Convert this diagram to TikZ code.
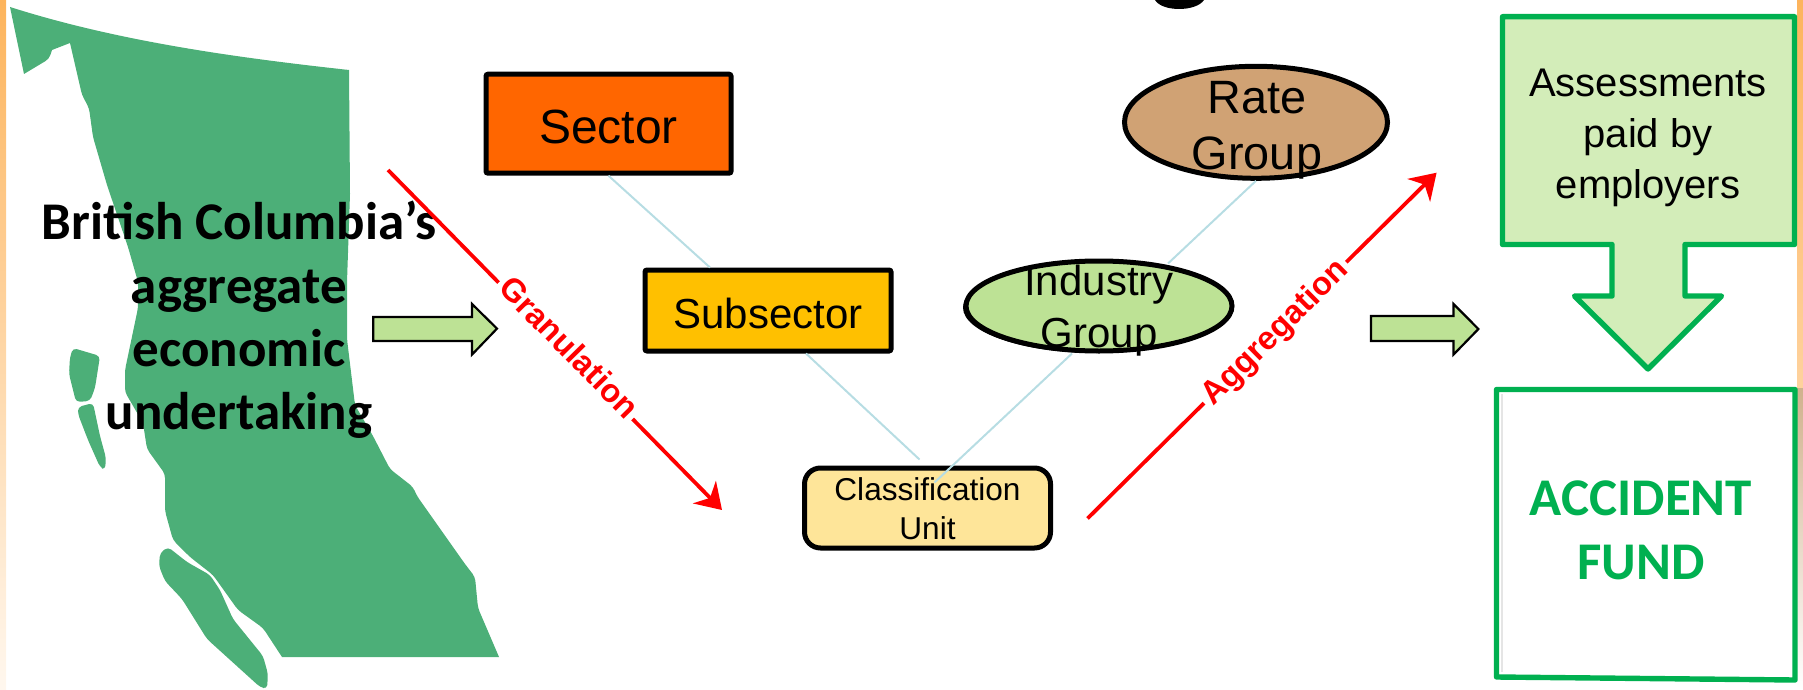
\documentclass[tikz,border=0pt]{standalone}
\usepackage{fontspec}
\setmainfont{Liberation Sans}
\newfontfamily\carl{Carlito}
\usetikzlibrary{arrows.meta,shapes.geometric}
\definecolor{mapgreen}{HTML}{4CAF78}
\definecolor{fundgreen}{HTML}{00B050}
\definecolor{paleg}{HTML}{D3EDB9}
\definecolor{arrowg}{HTML}{BDE295}
\definecolor{linkblue}{HTML}{B7DDE3}
\definecolor{stripo}{HTML}{FDB45C}
\tikzset{
  x=0.5pt,y=-0.5pt,
  boxnode/.style={draw=black,line width=2.5pt,inner sep=0pt,align=center,rounded corners=1pt},
  ovalnode/.style={ellipse,draw=black,line width=2.5pt,inner sep=0pt},
  ovaltext/.style={align=center,inner sep=0pt},
  link/.style={draw=linkblue,line width=1pt},
  redline/.style={draw=red,line width=1.9pt},
  redhead/.style={-{Stealth[length=12.5pt,width=16pt,inset=4pt]}},
  redlabel/.style={fill=white,text=red,font=\bfseries\fontsize{16.3}{20}\selectfont,inner sep=2pt},
  blockarrow/.style={draw=black,fill=arrowg,line width=1.1pt,line join=miter},
  mapfill/.style={fill=mapgreen,draw=none},
  fundline/.style={draw=fundgreen,line width=2.7pt,line join=round},
}
\begin{document}
\begin{tikzpicture}
\useasboundingbox (0,0) rectangle (1803,690);
\shade[top color=stripo,bottom color=stripo!10] (0,0) rectangle (6,690);
\shade[top color=stripo,bottom color=stripo!60] (1797,0) rectangle (1803,388);
\shade[top color=black!30!stripo!60,bottom color=white] (1797,388) rectangle (1803,690);
% map
\path[mapfill] (10,7) .. controls (120,42) and (240,58) .. (349,70)
 -- (350,194) [rounded corners=2pt] -- (347,282) -- (347,339) -- (355,405) -- (373,436) -- (390,469) -- (413,487) -- (417,496) -- (465,564) -- (475,577) -- (478,608) [sharp corners] -- (499,657)
 -- (282,657) [rounded corners=2pt] -- (263,628) -- (238,610) -- (213,575) -- (190,557) -- (173,540) -- (165,511) -- (165,474) -- (147,449) -- (143,423) -- (125,392) -- (125,370) -- (138,308) -- (138,282) -- (128,247) -- (107,185) -- (93,137) -- (89,108) -- (82,95) [sharp corners] -- (70,43) -- (52,50) [rounded corners=2pt] -- (49,59) [sharp corners] -- (24,74) -- cycle;
\path[mapfill,rounded corners=2pt] (73,348) -- (100,356) -- (95,388) -- (90,401) -- (76,402) -- (69,374) -- (70,357) -- cycle;
\path[mapfill,rounded corners=2pt] (78,407) -- (93,403) -- (100,436) -- (106,458) -- (105,470) -- (100,467) -- (88,440) -- (78,414) -- cycle;
\path[mapfill,rounded corners=2pt] (160,553) -- (168,547) -- (187,562) -- (210,575) -- (220,590) -- (233,619) -- (263,656) -- (268,674) -- (267,689) -- (260,687) -- (207,639) -- (182,599) -- (165,581) -- (159,566) -- cycle;
% cut-off title letter
\fill[black] (1155,0) .. controls (1162,12) and (1196,12) .. (1204,0) -- cycle;
\node[align=center,font=\carl\bfseries\fontsize{26.5}{31.7}\selectfont] (bc) at (239,320) {British Columbia’s\\aggregate\\economic\\undertaking};
% nodes
\node[boxnode,fill={rgb,255:red,255;green,102;blue,0},minimum width=122.5pt,minimum height=49.5pt,text height=20pt,text depth=0pt,font=\fontsize{24}{28}\selectfont] (sector) at (608.5,123.7) {Sector};
\node[boxnode,fill={rgb,255:red,255;green,192;blue,0},minimum width=123pt,minimum height=40.5pt,text height=17.8pt,text depth=0pt,font=\fontsize{21}{25}\selectfont] (subsector) at (768,310.5) {Subsector};
\node[boxnode,rounded corners=8pt,fill={rgb,255:red,254;green,229;blue,153},minimum width=123pt,minimum height=40pt,font=\fontsize{15.8}{19.5}\selectfont] (unit) at (927.5,508) {};
\node[ovaltext,font=\fontsize{15.8}{19.5}\selectfont] (unittext) at (927.5,509) {Classification\\Unit};
\fill[black] (1255,122.3) ellipse[x radius=132,y radius=56];
\node[ovalnode,fill={rgb,255:red,208;green,162;blue,116},minimum width=131.5pt,minimum height=56pt] (rate) at (1256,122.3) {};
\node[ovaltext,font=\fontsize{23.4}{27.8}\selectfont] (ratetext) at (1257,130.3) {Rate\\Group};
\fill[black] (1097,307.5) ellipse[x radius=134,y radius=45.5];
\node[ovalnode,fill=arrowg,minimum width=133pt,minimum height=45pt] (industry) at (1099,306) {};
\node[ovaltext,font=\fontsize{21}{26}\selectfont] (industrytext) at (1099,311) {Industry\\Group};
% links
\draw[link] (sector.south) -- ([xshift=-29pt]subsector.north);
\draw[link] ([xshift=19pt]subsector.south) -- ([xshift=-4pt,yshift=3pt]unit.north);
\draw[link] ([xshift=3.5pt,yshift=-8.5pt]unit.north) -- ([xshift=-13.5pt]industry.south);
\draw[link] ([xshift=34.5pt,yshift=-2.5pt]industry.north) -- (rate.south);
% red arrows
\coordinate (gs) at (388,170);
\coordinate (ge) at (722,510);
\coordinate (as) at (1087.5,518.5);
\coordinate (ae) at (1436.6,172.7);
\draw[redline,redhead] (gs) -- (ge);
\draw[redline,redhead] (as) -- (ae);
\node[redlabel,rotate=-45.5] (gran) at (569.5,347) {Granulation};
\node[redlabel,rotate=44.7] (aggr) at (1276,333.5) {Aggregation};
% block arrows
\draw[blockarrow] (373.3,317) -- (472,317) -- (472,304) -- (497,328.6) -- (472,354.6) -- (472,341) -- (373.3,341) -- cycle;
\draw[blockarrow] (1371,316) -- (1453.5,316) -- (1453.5,304) -- (1478.4,329) -- (1453.5,354.6) -- (1453.5,341) -- (1371,341) -- cycle;
% callout
\draw[fundline,fill=paleg] (1502.5,16.7) -- (1794.5,16.7) -- (1794.5,244.5) -- (1685,244.5) -- (1685,296) -- (1721.5,296) -- (1648,369) -- (1574.5,296) -- (1612,296) -- (1612,244.5) -- (1502.5,244.5) -- cycle;
\node[align=center,font=\fontsize{20}{25.4}\selectfont] (assess) at (1648,138) {Assessments\\paid by\\employers};
% fund
\draw[fundline,fill=white] (1496.5,389.5) -- (1795,389.5) -- (1795,680) -- (1496.5,677) -- cycle;
\draw[black!10,line width=1.2pt] (1502,394) -- (1502,672);
\node[align=center,text=fundgreen,font=\carl\bfseries\fontsize{26.5}{32}\selectfont] (fund) at (1641,530) {ACCIDENT\\FUND};
\end{tikzpicture}
\end{document}
